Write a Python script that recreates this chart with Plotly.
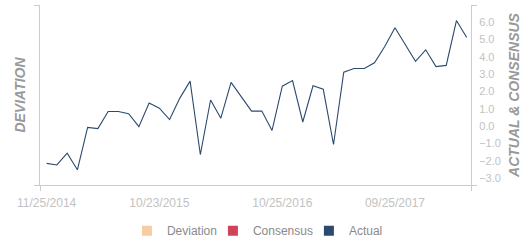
import plotly.graph_objects as go

# ---- data ----
idx = list(range(42))
actual = [-2.15, -2.24, -1.56, -2.52, -0.07, -0.14, 0.85, 0.85, 0.72, -0.03,
          1.34, 1.04, 0.38, 1.62, 2.60, -1.64, 1.51, 0.46, 2.53, 1.69,
          0.87, 0.87, -0.25, 2.31, 2.63, 0.24, 2.33, 2.13, -1.06, 3.12,
          3.33, 3.33, 3.66, 4.60, 5.69, 4.72, 3.75, 4.41, 3.44, 3.51,
          6.10, 5.12]
tick_pos = [0, 11, 23, 34]
tick_text = ["11/25/2014", "10/23/2015", "10/25/2016", "09/25/2017"]
right_ticks = [-3, -2, -1, 0, 1, 2, 3, 4, 5, 6]
legend_names = ["Deviation", "Consensus", "Actual"]
legend_colors = ["#f6cda2", "#d2435a", "#2c4a6e"]

FONT = "Liberation Sans, Arial, sans-serif"
AXC = "#cccccc"
TICKC = "#c2c2c2"
LEG_IDS = ["legend", "legend2", "legend3"]
LEG_X = [0.2017, 0.4012, 0.6239]

fig = go.Figure()

# legend-only entries (square symbols); Deviation lives on the left axis
for name, col, ya, lg in zip(legend_names, legend_colors, ["y", "y2", "y2"], LEG_IDS):
    fig.add_trace(go.Scatter(x=[None], y=[None], mode="markers", name=name,
                             marker=dict(symbol="square", size=10, color=col),
                             xaxis="x", yaxis=ya, legend=lg))

# actual line
fig.add_trace(go.Scatter(x=idx, y=actual, mode="lines", name="Actual",
                         line=dict(color="#2c4a6e", width=1.1),
                         showlegend=False, xaxis="x", yaxis="y2"))

# invisible trace to materialise end-tick axes
fig.add_trace(go.Scatter(x=[None], y=[None], xaxis="x2", yaxis="y3",
                         showlegend=False, hoverinfo="skip"))

legends = {}
for lg, lx in zip(LEG_IDS, LEG_X):
    legends[lg] = dict(orientation="h", x=lx, xanchor="left",
                       y=-47/185, yanchor="middle", bgcolor="rgba(0,0,0,0)",
                       font=dict(size=12, color="#8a8a8a", family=FONT),
                       itemwidth=30)

fig.update_layout(
    width=531, height=250,
    margin=dict(l=40, r=60, t=5, b=60),
    paper_bgcolor="white", plot_bgcolor="white",
    font=dict(family=FONT, color="#999999"),
    showlegend=True,
    **legends,
    xaxis=dict(range=[-0.65, 41.42], tickmode="array", tickvals=tick_pos,
               ticktext=tick_text, ticks="", showline=True, linecolor=AXC,
               linewidth=1, showgrid=False, zeroline=False,
               ticklabelstandoff=7,
               tickfont=dict(size=12, color=TICKC, family=FONT)),
    xaxis2=dict(range=[0, 1], overlaying="x", anchor="y3", side="bottom",
                tickvals=[0, 1], ticks="outside", ticklen=5, tickcolor=AXC,
                showticklabels=False, showline=False, showgrid=False,
                zeroline=False),
    yaxis=dict(range=[0, 1], tickvals=[0, 1], ticks="outside", ticklen=5,
               tickcolor=AXC, showticklabels=False, showline=True,
               linecolor=AXC, showgrid=False, zeroline=False,
               title=dict(text="<b><i>DEVIATION</i></b>", standoff=5,
                          font=dict(size=14, color="#999999", family=FONT))),
    yaxis2=dict(range=[-3.4, 7.0], overlaying="y", side="right", anchor="x",
                tickvals=right_ticks, tickformat=".1f", ticks="",
                showline=True, linecolor=AXC, showgrid=False, zeroline=False,
                ticklabelstandoff=5,
                tickfont=dict(size=11, color=TICKC, family=FONT),
                title=dict(text="<b><i>ACTUAL &amp; CONSENSUS</i></b>", standoff=9,
                           font=dict(size=14, color="#999999", family=FONT))),
    yaxis3=dict(range=[0, 1], overlaying="y", side="right", anchor="x2",
                tickvals=[0, 1], ticks="outside", ticklen=5, tickcolor=AXC,
                showticklabels=False, showline=False, showgrid=False,
                zeroline=False),
)

fig.write_html("out.html")
